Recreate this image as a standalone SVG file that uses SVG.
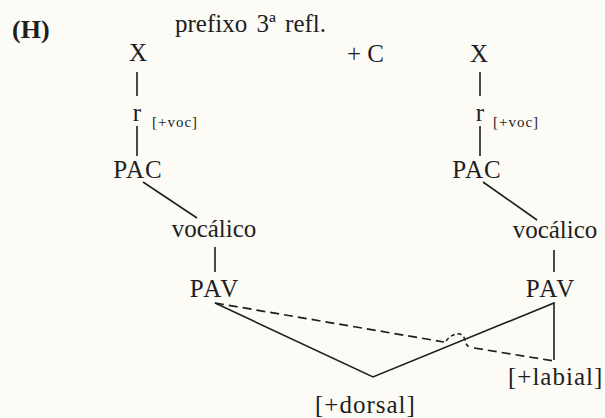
<svg xmlns="http://www.w3.org/2000/svg" width="605" height="418" viewBox="0 0 605 418">
<style>
.n{font-size:25px;text-anchor:middle}
.s{font-size:15px;letter-spacing:1px}
.f{font-size:25px;letter-spacing:1px}
.ln{stroke:#1e1e1e;stroke-width:1.6;fill:none}
.d{stroke:#1e1e1e;stroke-width:1.7;fill:none;stroke-dasharray:9 5}
</style>
<rect width="605" height="418" fill="#fcfbf6"/>
<g font-family="Liberation Serif" fill="#1e1e1e">
<g id="title">
<text x="12" y="38" font-size="26" font-weight="bold">(H)</text>
<text x="175" y="32" font-size="25" word-spacing="3">prefixo 3ª refl.</text>
</g>
<g id="x-left"><text class="n" x="138" y="61">X</text></g>
<g id="plus-c"><text x="347" y="62" font-size="25">+ C</text></g>
<g id="x-right"><text class="n" x="479" y="62">X</text></g>
<g id="r-left"><text class="n" x="137" y="121">r</text><text class="s" x="152" y="127">[+voc]</text></g>
<g id="r-right"><text class="n" x="480" y="121">r</text><text class="s" x="493" y="127">[+voc]</text></g>
<g id="pac-left"><text class="n" x="138" y="178" letter-spacing="1">PAC</text></g>
<g id="pac-right"><text class="n" x="477" y="178" letter-spacing="1">PAC</text></g>
<g id="voc-left"><text class="n" x="214" y="237">vocálico</text></g>
<g id="voc-right"><text class="n" x="555" y="238">vocálico</text></g>
<g id="pav-left"><text class="n" x="215" y="297" letter-spacing="2">PAV</text></g>
<g id="pav-right"><text class="n" x="551" y="297" letter-spacing="2">PAV</text></g>
<g id="dorsal"><text class="f" x="315" y="413">[+dorsal]</text></g>
<g id="labial"><text class="f" x="508" y="385">[+labial]</text></g>
</g>
<g id="connectors">
<line class="ln" x1="137" y1="72" x2="137" y2="96"/>
<line class="ln" x1="137" y1="126" x2="137" y2="156"/>
<line class="ln" x1="480" y1="72" x2="480" y2="96"/>
<line class="ln" x1="480" y1="126" x2="480" y2="156"/>
<line class="ln" x1="143" y1="182" x2="197" y2="218"/>
<line class="ln" x1="483" y1="182" x2="537" y2="220"/>
<line class="ln" x1="215" y1="247" x2="215" y2="272"/>
<line class="ln" x1="554" y1="250" x2="554" y2="272"/>
<polyline class="ln" points="215,303 373,377 554,303 554,360"/>
<path class="d" d="M215,303 L444,342"/>
<path class="ln" stroke-dasharray="4 3" d="M446,341 Q452,333 460,334 Q464,336 465,340 Q466,346 470,347"/>
<path class="d" d="M474,348 L554,361"/>
</g>
</svg>
